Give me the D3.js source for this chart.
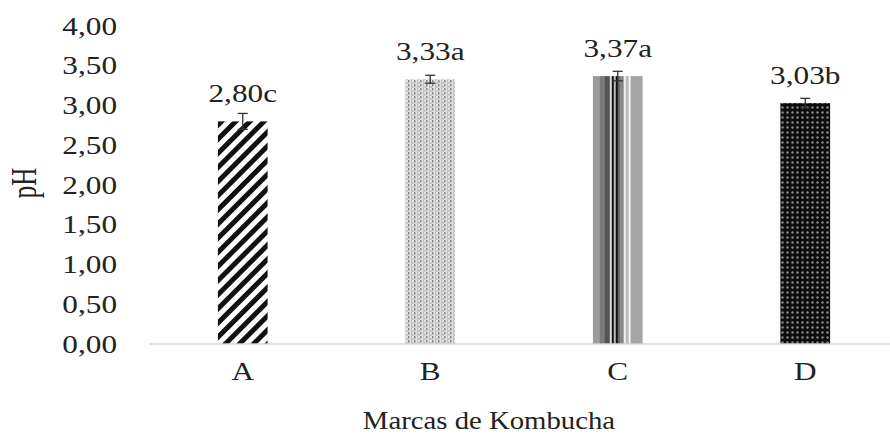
<!DOCTYPE html>
<html>
<head>
<meta charset="utf-8">
<script src="https://cdn.jsdelivr.net/npm/d3@7"></script>
<style>
  html, body { margin: 0; padding: 0; background: #fff; }
  svg { display: block; }
  text { font-family: "Liberation Serif", "Times New Roman", serif; fill: #222; }
</style>
</head>
<body>
<script>
// Kombucha brands and their measured pH
const categories = ["A", "B", "C", "D"];
const phValues = [2.80, 3.33, 3.37, 3.03];
const phErrors = [0.10, 0.05, 0.06, 0.06];
const groupLetters = ["c", "a", "a", "b"];
const yTicks = [0, 0.5, 1, 1.5, 2, 2.5, 3, 3.5, 4];

const W = 890, H = 437;
const sx = 1.25; // horizontal stretch applied to text

const svg = d3.select("body").append("svg").attr("width", W).attr("height", H);
const defs = svg.append("defs");

// A: bold diagonal hatching
const pA = defs.append("pattern").attr("id", "patA")
  .attr("patternUnits", "userSpaceOnUse").attr("width", 10).attr("height", 10)
  .attr("patternTransform", "rotate(45)");
pA.append("rect").attr("width", 10).attr("height", 10).attr("fill", "#fff");
pA.append("rect").attr("x", 0).attr("width", 5).attr("height", 10).attr("fill", "#111");

// B: light dotted vertical texture
const pB = defs.append("pattern").attr("id", "patB")
  .attr("patternUnits", "userSpaceOnUse").attr("width", 6).attr("height", 4);
pB.append("rect").attr("width", 6).attr("height", 4).attr("fill", "#e2e2e2");
pB.append("rect").attr("x", 0).attr("width", 1.5).attr("height", 2.5).attr("fill", "#888");
pB.append("rect").attr("x", 3).attr("width", 1).attr("height", 4).attr("fill", "#c0c0c0");
pB.append("rect").attr("x", 4.5).attr("y", 2).attr("width", 1).attr("height", 2).attr("fill", "#aaa");

// C: vertical stripes of varying grey across the bar
const stripesC = [
  [0.00, 0.14, "#9a9a9a"], [0.14, 0.24, "#7a7a7a"], [0.24, 0.34, "#555"],
  [0.34, 0.38, "#ddd"], [0.38, 0.42, "#111"], [0.42, 0.46, "#bbb"],
  [0.46, 0.50, "#111"], [0.50, 0.54, "#666"], [0.54, 0.62, "#888"],
  [0.62, 0.66, "#f2f2f2"], [0.66, 0.72, "#bbb"], [0.72, 0.76, "#f5f5f5"],
  [0.76, 1.00, "#a5a5a5"]
];
const pC = defs.append("pattern").attr("id", "patC")
  .attr("patternUnits", "objectBoundingBox").attr("patternContentUnits", "objectBoundingBox")
  .attr("width", 1).attr("height", 1);
stripesC.forEach(([a, b, c]) => {
  pC.append("rect").attr("x", a).attr("width", b - a + 0.002).attr("height", 1).attr("fill", c);
});

// D: dark halftone dots
const pD = defs.append("pattern").attr("id", "patD")
  .attr("patternUnits", "userSpaceOnUse").attr("width", 5).attr("height", 5);
pD.append("rect").attr("width", 5).attr("height", 5).attr("fill", "#0c0c0c");
pD.append("circle").attr("cx", 2.5).attr("cy", 2.5).attr("r", 1.2).attr("fill", "#8a8a8a");

const fills = ["url(#patA)", "url(#patB)", "url(#patC)", "url(#patD)"];

const x = d3.scaleBand().domain(categories).range([149, 899]).paddingInner(0.735).paddingOuter(0.3675);
const y = d3.scaleLinear().domain([0, 4]).range([344, 26]);

// y tick labels (no gridlines, no axis line)
const yAxis = d3.axisLeft(y).tickValues(yTicks).tickSize(0).tickPadding(0)
  .tickFormat(d => d3.format(".2f")(d).replace(".", ","));
const gy = svg.append("g").attr("transform", "translate(117,0)").call(yAxis);
gy.select(".domain").remove();
gy.selectAll(".tick text")
  .attr("x", 0).attr("dy", "0.32em")
  .attr("font-size", 25)
  .attr("text-anchor", "end").attr("transform", `scale(${sx},1)`);
gy.attr("font-family", null).attr("font-size", null);

// bars
svg.append("g").selectAll("rect").data(categories).join("rect")
  .attr("x", d => x(d))
  .attr("width", x.bandwidth())
  .attr("y", (d, i) => y(phValues[i]))
  .attr("height", (d, i) => y(0) - y(phValues[i]))
  .attr("fill", (d, i) => fills[i]);

// error bars
const eb = svg.append("g").attr("stroke", "#333").attr("stroke-width", 1.3);
categories.forEach((c, i) => {
  const cx = x(c) + x.bandwidth() / 2;
  const y1 = y(phValues[i] + phErrors[i]), y0 = y(phValues[i] - phErrors[i]);
  eb.append("line").attr("x1", cx).attr("x2", cx).attr("y1", y1).attr("y2", y0);
  eb.append("line").attr("x1", cx - 5).attr("x2", cx + 5).attr("y1", y1).attr("y2", y1);
  eb.append("line").attr("x1", cx - 5).attr("x2", cx + 5).attr("y1", y0).attr("y2", y0);
});

// x axis line
svg.append("line").attr("x1", 149).attr("x2", W).attr("y1", y(0)).attr("y2", y(0))
  .attr("stroke", "#d4d4d4").attr("stroke-width", 1.5);

// value labels
svg.append("g").selectAll("text").data(categories).join("text")
  .attr("transform", (d, i) => `translate(${x(d) + x.bandwidth() / 2},${y(phValues[i]) - 19}) scale(${sx},1)`)
  .attr("text-anchor", "middle").attr("font-size", 25)
  .text((d, i) => d3.format(".2f")(phValues[i]).replace(".", ",") + groupLetters[i]);

// category labels
svg.append("g").selectAll("text").data(categories).join("text")
  .attr("transform", d => `translate(${x(d) + x.bandwidth() / 2},380) scale(${sx},1)`)
  .attr("text-anchor", "middle").attr("font-size", 25)
  .text(d => d);

// axis titles
svg.append("text")
  .attr("transform", `translate(489,429) scale(1.15,1)`)
  .attr("text-anchor", "middle").attr("font-size", 25)
  .text("Marcas de Kombucha");
svg.append("text")
  .attr("transform", `translate(36,183) scale(1.4,1) rotate(-90)`)
  .attr("text-anchor", "middle").attr("font-size", 25)
  .text("pH");
</script>
</body>
</html>
